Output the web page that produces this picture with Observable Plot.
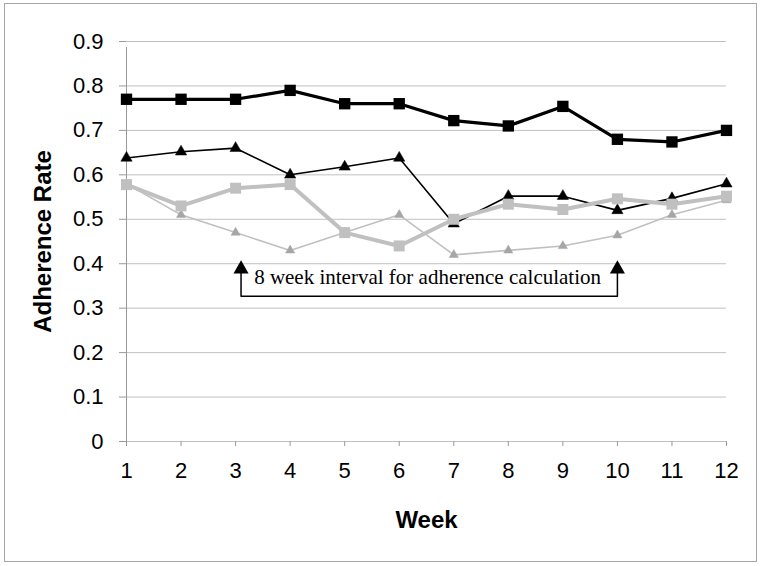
<!DOCTYPE html>
<html>
<head>
<meta charset="utf-8">
<script src="https://cdn.jsdelivr.net/npm/d3@7"></script>
<script src="https://cdn.jsdelivr.net/npm/@observablehq/plot@0.6"></script>
<style>
  html, body { margin: 0; padding: 0; background: #fff; }
  #wrap { position: relative; width: 760px; height: 566px; }
  #border { position: absolute; left: 4px; top: 3px; width: 751px; height: 557px; border: 1px solid #a6a6a6; pointer-events: none; }
</style>
</head>
<body>
<div id="wrap"><div id="border"></div></div>
<script>
// ---- data ----
const weeks = [1, 2, 3, 4, 5, 6, 7, 8, 9, 10, 11, 12];
const blackSquares   = [0.77, 0.77, 0.77, 0.79, 0.76, 0.76, 0.722, 0.71, 0.754, 0.68, 0.674, 0.70];
const blackTriangles = [0.638, 0.652, 0.66, 0.60, 0.618, 0.638, 0.49, 0.552, 0.552, 0.52, 0.547, 0.58];
const graySquares    = [0.578, 0.53, 0.57, 0.578, 0.47, 0.44, 0.50, 0.534, 0.522, 0.546, 0.534, 0.552];
const grayTriangles  = [0.58, 0.51, 0.47, 0.43, 0.47, 0.51, 0.42, 0.43, 0.44, 0.464, 0.51, 0.543];
const yTicks = [0, 0.1, 0.2, 0.3, 0.4, 0.5, 0.6, 0.7, 0.8, 0.9];
const yTickLabels = ["0", "0.1", "0.2", "0.3", "0.4", "0.5", "0.6", "0.7", "0.8", "0.9"];
const xTickLabels = ["1","2","3","4","5","6","7","8","9","10","11","12"];
const intervalWeeks = [3.1, 10];        // arrow positions of the annotation
const bracketY = 0.327;
const arrowHeadY = 0.388;
const annotationText = "8 week interval for adherence calculation";
const annotationPos = {x: 6.52, y: 0.37};
const xTitle = "Week";
const yTitle = "Adherence Rate";

const rows = (vals, series) => weeks.map((w, i) => ({week: w, value: vals[i], series}));
const gT = rows(grayTriangles, "grayTri");
const bT = rows(blackTriangles, "blackTri");
const gS = rows(graySquares, "graySq");
const bS = rows(blackSquares, "blackSq");

const bracket = [
  {x: intervalWeeks[0], y: arrowHeadY},
  {x: intervalWeeks[0], y: bracketY},
  {x: intervalWeeks[1], y: bracketY},
  {x: intervalWeeks[1], y: arrowHeadY}
];
const heads = intervalWeeks.map(x => ({x, y: arrowHeadY}));

const chart = Plot.plot({
  width: 760,
  height: 566,
  marginLeft: 126,
  marginRight: 34,
  marginTop: 41,
  marginBottom: 125,
  style: {fontFamily: "'Liberation Sans', Arial, sans-serif", fontSize: "22px", color: "#000", background: "transparent"},
  x: {domain: [1, 12], ticks: weeks, label: null},
  y: {domain: [0, 0.9], ticks: yTicks, label: null},
  marks: [
    Plot.gridY(yTicks, {stroke: "#c0c0c0", strokeOpacity: 1, strokeWidth: 1}),
    Plot.ruleX([1], {y1: 0, y2: 0.9, stroke: "#999", insetBottom: -6}),
    Plot.axisY(yTicks, {tickSize: 7, tickPadding: 16, stroke: "#999", tickFormat: (d, i) => yTickLabels[i], fill: "#000", fontSize: 22}),
    Plot.axisX(weeks, {tickSize: 5, tickPadding: 16, stroke: "#999", tickFormat: (d, i) => xTickLabels[i], fill: "#000", fontSize: 22}),
    // gray triangles
    Plot.line(gT, {x: "week", y: "value", stroke: "#c0c0c0", strokeWidth: 1.6}),
    Plot.dot(gT, {x: "week", y: "value", symbol: "triangle", r: 3.4, fill: "#a6a6a6", stroke: "#a6a6a6", strokeWidth: 0.5}),
    // black triangles
    Plot.line(bT, {x: "week", y: "value", stroke: "#000", strokeWidth: 1.6}),
    Plot.dot(bT, {x: "week", y: "value", symbol: "triangle", r: 4.2, fill: "#000", stroke: "#000", strokeWidth: 0.5}),
    // gray squares
    Plot.line(gS, {x: "week", y: "value", stroke: "#c0c0c0", strokeWidth: 4}),
    Plot.dot(gS, {x: "week", y: "value", symbol: "square", r: 6.2, fill: "#c0c0c0", stroke: "none"}),
    // black squares
    Plot.line(bS, {x: "week", y: "value", stroke: "#000", strokeWidth: 3.2}),
    Plot.dot(bS, {x: "week", y: "value", symbol: "square", r: 6.4, fill: "#000", stroke: "none"}),
    // annotation
    Plot.line(bracket, {x: "x", y: "y", stroke: "#000", strokeWidth: 1.5}),
    Plot.dot(heads, {x: "x", y: "y", symbol: "triangle", r: 5.6, fill: "#000", stroke: "none"}),
    Plot.text([annotationText], {x: annotationPos.x, y: annotationPos.y, text: d => d, fontFamily: "'Liberation Serif', 'Times New Roman', serif", fontSize: 21, fill: "#000"}),
    // axis titles
    Plot.text([yTitle], {frameAnchor: "left", dx: -83, rotate: -90, textAnchor: "middle", lineAnchor: "middle", text: d => d, fontWeight: "bold", fontSize: 24, fill: "#000"}),
    Plot.text([xTitle], {frameAnchor: "bottom", dy: 79, textAnchor: "middle", lineAnchor: "middle", text: d => d, fontWeight: "bold", fontSize: 24, fill: "#000"})
  ]
});
document.getElementById("wrap").prepend(chart);
</script>
</body>
</html>
